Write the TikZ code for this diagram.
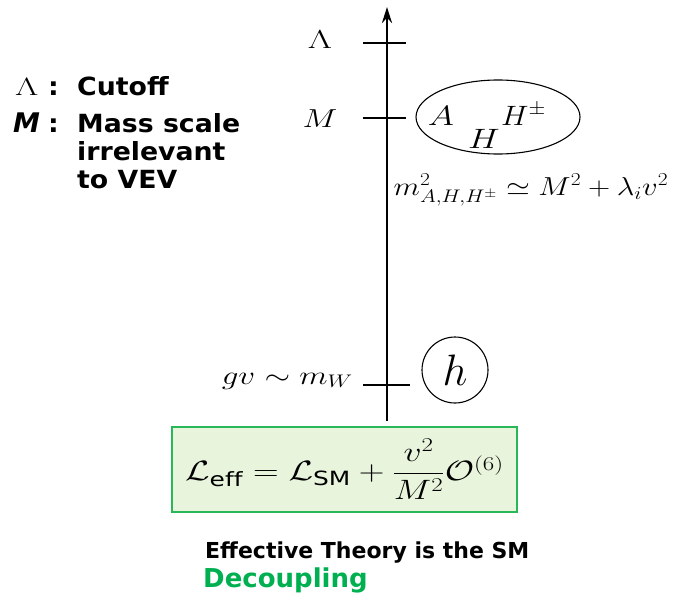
\documentclass[tikz,border=0pt]{standalone}
\usepackage{fix-cm}
\usepackage{amsmath}
\usepackage{fontspec}
\setsansfont{DejaVu Sans}
\newfontfamily\legendfont{DejaVu Sans}[FakeStretch=1.07]
\usetikzlibrary{arrows.meta,shapes.geometric}
\definecolor{boxgreen}{RGB}{40,184,90}
\definecolor{boxfill}{RGB}{232,244,220}
\definecolor{decgreen}{RGB}{0,176,80}
\newcommand{\fs}[1]{\fontsize{#1}{#1}\selectfont}
\newcommand{\wide}[2][1.27]{\scalebox{#1}[1]{#2}}

\tikzset{
  scale line/.style={line width=2.8pt},
  tickline/.style={line width=1.3pt},
  mlabel/.style={inner sep=0pt,font=\fs{26}},
  notetext/.style={inner sep=0pt,anchor=base west,font=\legendfont\bfseries\fs{25}},
}

\begin{document}
\begin{tikzpicture}[x=1pt,y=-1pt]
\useasboundingbox (0,0) rectangle (677,597);

% energy axis
\coordinate (axbot) at (387,421);
\coordinate (axtop) at (387,7);
\draw[scale line,-{Stealth[length=16pt,width=10pt]}] (axbot) -- (axtop);

% ticks
\coordinate (lamL) at (363,43);  \coordinate (lamR) at (406,43);
\coordinate (mL) at (363,118);   \coordinate (mR) at (406,118);
\coordinate (hL) at (363,385);   \coordinate (hR) at (410,385);
\draw[tickline] (lamL) -- (lamR);
\draw[tickline] (mL) -- (mR);
\draw[tickline] (hL) -- (hR);

\node[mlabel] (lam) at (320,40) {\wide[1.45]{$\Lambda$}};
\node[mlabel] (mscale) at (320,119) {\wide{$M$}};
\node[mlabel,anchor=east] (gv) at (353,381) {\wide{$gv\sim m_W$}};

% heavy states
\node[draw,ellipse,line width=1.1pt,minimum width=164pt,minimum height=74pt] (heavy) at (498,117) {};
\node[inner sep=0pt,anchor=base,font=\fs{28}] (hA) at (441,125) {\wide{$A$}};
\node[inner sep=0pt,anchor=base,font=\fs{28}] (hH) at (484,148) {\wide{$H$}};
\node[inner sep=0pt,anchor=base west,font=\fs{28}] (hHpm) at (501,125) {\wide[1.1]{$H^\pm$}};
\node[mlabel] (mass) at (531,190) {\wide[1.18]{$m_{A,H,H^\pm}^2\simeq M^2+\lambda_i v^2$}};

% light higgs
\node[draw,circle,line width=1.1pt,minimum size=66pt,inner sep=0pt,font=\fs{44}] (hlight) at (455,370) {$h$};

% effective lagrangian
\node[draw=boxgreen,fill=boxfill,line width=1.4pt,minimum width=345pt,minimum height=85pt,
      inner sep=0pt,font=\fs{28}] (leff) at (344.5,469.5)
  {\wide{$\mathcal{L}_{\mathsf{eff}}=\mathcal{L}_{\mathsf{SM}}+\dfrac{v^2}{M^2}\mathcal{O}^{(6)}$}};

\node[notetext,font=\sffamily\bfseries\fs{22}] (efft) at (205,558) {Effective Theory is the SM};
\node[notetext,text=decgreen,font=\sffamily\bfseries\fs{26}] (decoup) at (203,587) {Decoupling};

% legend
\node[notetext,font=\fs{25}] (lamsym) at (15,95) {\wide[1.45]{$\Lambda$}};
\node[notetext] (colA) at (48,95) {:};
\node[notetext] (cutoff) at (77,95) {Cutoff};
\node[notetext,font=\sffamily\bfseries\itshape\fs{27}] (msym) at (13,132) {M};
\node[notetext] (colB) at (48,132) {:};
\node[notetext] (massdef) at (77,132) {Mass scale};
\node[notetext] (irrel) at (77,160) {irrelevant};
\node[notetext] (vev) at (77,188) {to VEV};
\end{tikzpicture}
\end{document}
